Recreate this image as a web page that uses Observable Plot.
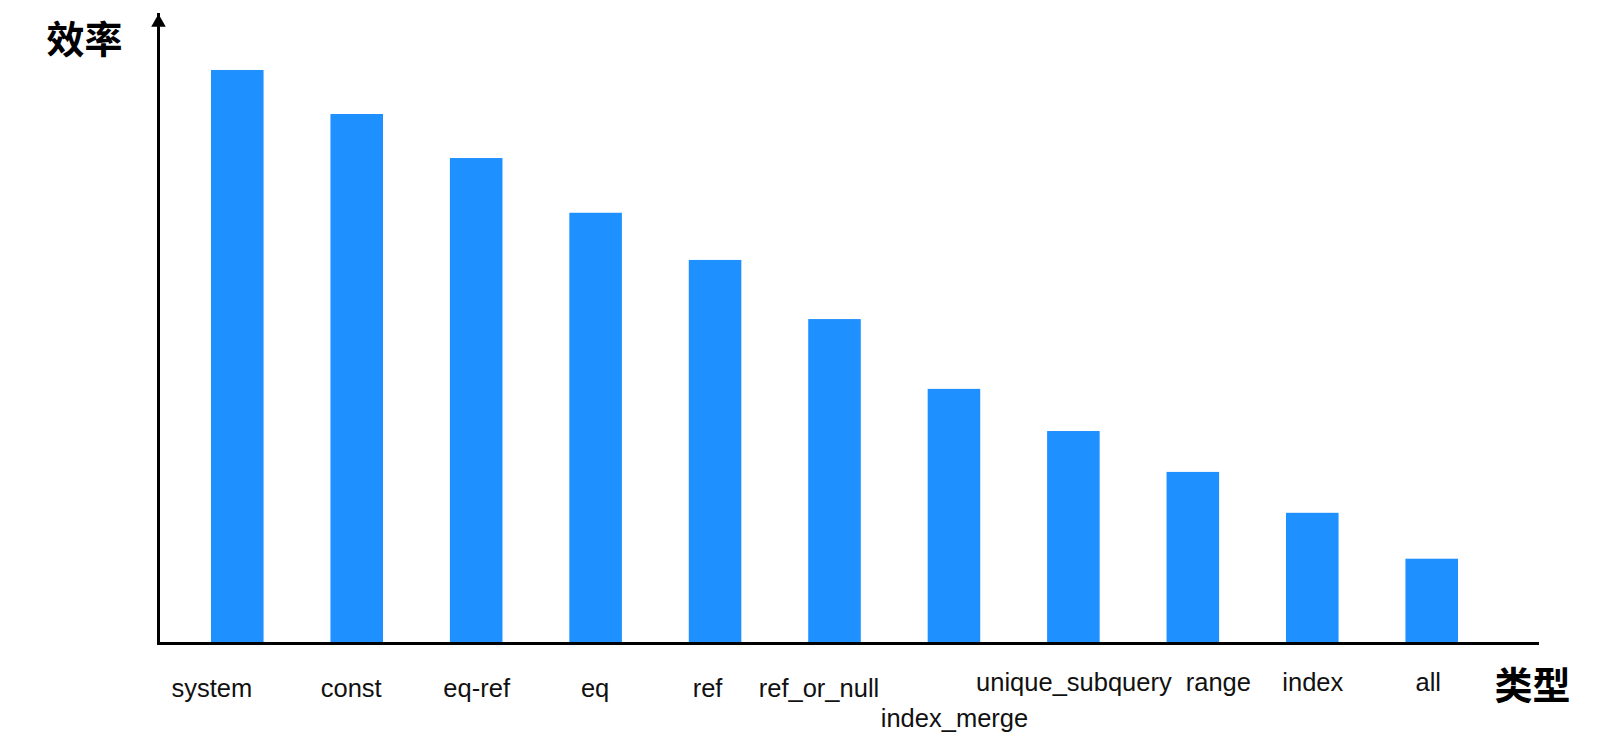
<!DOCTYPE html>
<html>
<head>
<meta charset="utf-8">
<script src="https://cdn.jsdelivr.net/npm/d3@7"></script>
<script src="https://cdn.jsdelivr.net/npm/@observablehq/plot@0.6"></script>
<style>
  html, body { margin: 0; padding: 0; background: #fff; }
  #chart svg { display: block; }
</style>
</head>
<body>
<div id="chart"></div>
<script>
// ---- data ----
const types = ["system", "const", "eq-ref", "eq", "ref", "ref_or_null", "index_merge", "unique_subquery", "range", "index", "all"];
const efficiency = [91.1, 84.1, 77.1, 68.4, 60.9, 51.5, 40.4, 33.7, 27.2, 20.7, 13.4];
const yTitle = "效率";
const xTitle = "类型";

const data = types.map((t, i) => ({type: t, value: efficiency[i]}));

// ---- layout (label nudges mimic the hand-placed labels of the original) ----
const nudge = {
  "system": [-26, 45], "const": [-6, 45], "eq-ref": [0, 45], "eq": [-1, 45],
  "ref": [-8, 45], "ref_or_null": [-16, 45], "index_merge": [0, 75],
  "unique_subquery": [0, 39], "range": [25, 39], "index": [0, 39], "all": [-4, 39]
};

const labelFont = "'Liberation Sans', Arial, Helvetica, sans-serif";
const cjkFont = "'Noto Sans CJK SC', sans-serif";

const labelMarks = types.map(t => Plot.text([t], {
  x: d => d,
  frameAnchor: "bottom",
  textAnchor: "middle",
  lineAnchor: "middle",
  dx: nudge[t][0],
  dy: nudge[t][1],
  fontSize: 25.5,
  fontFamily: labelFont,
  fill: "#111"
}));

const chart = Plot.plot({
  width: 1622,
  height: 748,
  marginLeft: 158,
  marginRight: 83,
  marginTop: 14,
  marginBottom: 105,
  style: {background: "#fff", overflow: "visible"},
  x: {domain: types, range: [211, 1458], paddingInner: 0.56, paddingOuter: 0, round: false, axis: null},
  y: {domain: [0, 100], axis: null},
  marks: [
    Plot.barY(data, {x: "type", y: "value", fill: "#1E90FF"}),
    Plot.frame({anchor: "left", stroke: "#000", strokeWidth: 3}),
    Plot.ruleY([0], {stroke: "#000", strokeWidth: 3}),
    Plot.dot([0], {frameAnchor: "top-left", symbol: "triangle", r: 5.4, fill: "#000", stroke: "none", dy: 8}),
    ...labelMarks,
    Plot.text([yTitle], {frameAnchor: "top-left", textAnchor: "middle", lineAnchor: "middle", dx: -74, dy: 26, fontSize: 38, fontWeight: "bold", fontFamily: cjkFont, fill: "#000"}),
    Plot.text([xTitle], {frameAnchor: "bottom-right", textAnchor: "middle", lineAnchor: "middle", dx: -7, dy: 43, fontSize: 38, fontWeight: "bold", fontFamily: cjkFont, fill: "#000"})
  ]
});

document.getElementById("chart").appendChild(chart);
</script>
</body>
</html>
